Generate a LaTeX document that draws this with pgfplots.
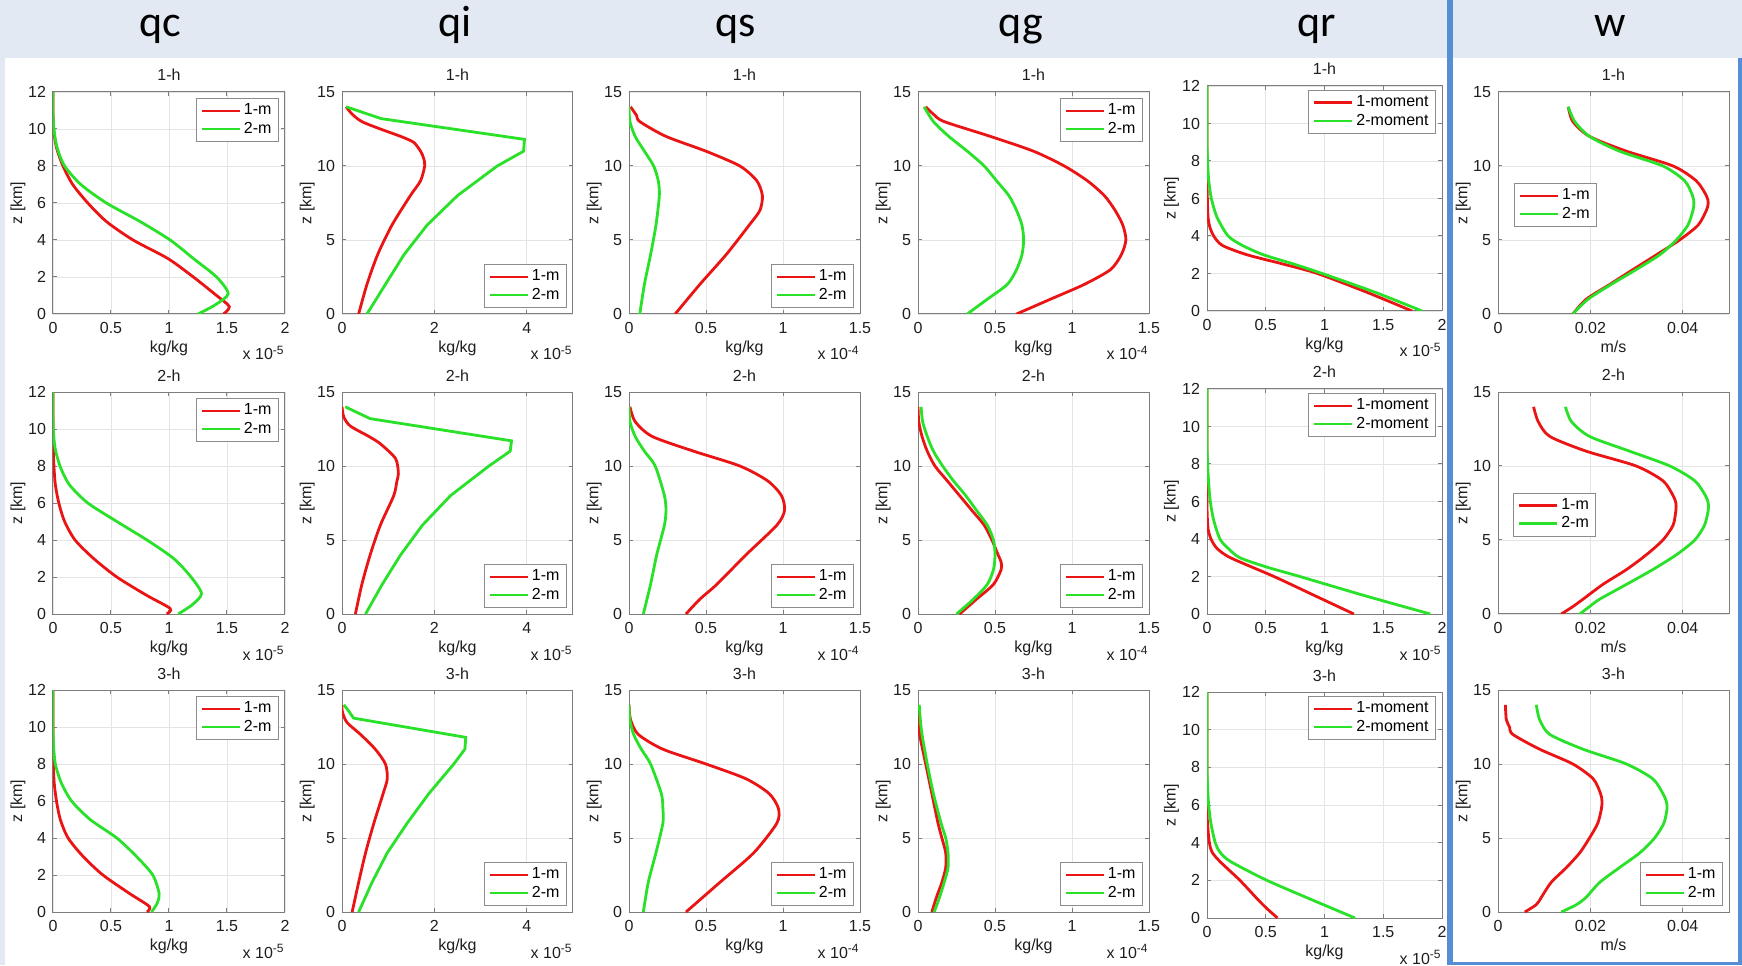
\documentclass[border=0pt]{standalone}
\usepackage{fontspec}
\setmainfont{Liberation Sans}
\newfontfamily\hdr{Carlito}
\usepackage{pgfplots}
\pgfplotsset{compat=1.18}

\definecolor{mred}{RGB}{235,20,20}
\definecolor{mgreen}{RGB}{40,225,40}
\definecolor{axgray}{RGB}{125,125,125}
\definecolor{gridgray}{RGB}{228,228,228}
\definecolor{leggray}{RGB}{140,140,140}
\definecolor{txt}{RGB}{30,30,30}
\definecolor{hdrbg}{RGB}{226,233,243}
\definecolor{mblue}{RGB}{85,142,213}

\newcommand{\fs}{\fontsize{8}{9.6}\selectfont}
\newcommand{\expnode}[1]{\node[anchor=base east, inner sep=0pt, font=\fs, text=txt, yshift=-23pt] at (1,0) {x 10\textsuperscript{#1}};}

\pgfplotsset{
  every axis title/.style={at={(0.5,1)}, anchor=base, yshift=5.5pt, inner sep=0pt, font=\fs, text=txt},
  every axis x label/.style={at={(0.5,0)}, anchor=base, yshift=-19.2pt, inner sep=0pt, font=\fs, text=txt},
  every axis y label/.style={at={(-0.151,0.5)}, rotate=90, anchor=center, inner sep=0pt, font=\fs, text=txt},
  base/.style={
    scale only axis,
    axis line style={axgray, line width=0.5pt},
    grid=major,
    major grid style={gridgray, line width=0.45pt},
    tick style={axgray, line width=0.5pt},
    major tick length=2pt,
    tick align=inside,
    scaled x ticks=false,
    scaled y ticks=false,
    ticklabel style={font=\fs, text=txt},
    /pgf/number format/assume math mode=true,
    xticklabel style={yshift=-0.6pt},
    legend style={draw=leggray, fill=white, line width=0.5pt, font=\fs,
      inner xsep=2pt, inner ysep=1.2pt, row sep=-1pt,
      cells={anchor=west}, nodes={inner sep=1.5pt, text=black}},
    legend image code/.code={\draw[##1, line width=1.4pt] (0pt,0pt) -- (19pt,0pt);},
    clip=true,
  },
  r/.style={mred, line width=1.4pt, smooth, tension=0.45},
  g/.style={mgreen, line width=1.4pt, smooth, tension=0.45},
  rs/.style={mred, line width=1.4pt},
  gs/.style={mgreen, line width=1.4pt},
  colqc/.style={xmin=0,xmax=2,ymin=0,ymax=12, xtick={0,0.5,1,1.5,2}, xticklabels={0,0.5,1,1.5,2},
    ytick={0,2,4,6,8,10,12}, yticklabels={0,2,4,6,8,10,12}, xlabel={kg/kg}, ylabel={z [km]},
    extra description/.code={\expnode{-5}}},
  colqi/.style={xmin=0,xmax=5,ymin=0,ymax=15, xtick={0,2,4}, xticklabels={0,2,4},
    ytick={0,5,10,15}, yticklabels={0,5,10,15}, xlabel={kg/kg}, ylabel={z [km]},
    extra description/.code={\expnode{-5}}},
  colqs/.style={xmin=0,xmax=1.5,ymin=0,ymax=15, xtick={0,0.5,1,1.5}, xticklabels={0,0.5,1,1.5},
    ytick={0,5,10,15}, yticklabels={0,5,10,15}, xlabel={kg/kg}, ylabel={z [km]},
    extra description/.code={\expnode{-4}}},
  colw/.style={xmin=0,xmax=0.05,ymin=0,ymax=15, xtick={0,0.02,0.04}, xticklabels={0,0.02,0.04},
    ytick={0,5,10,15}, yticklabels={0,5,10,15}, xlabel={m/s}, ylabel={z [km]}},
  lne/.style={legend style={at={(1,1)}, anchor=north east, xshift=-3pt, yshift=-3pt}},
  lse/.style={legend style={at={(1,0)}, anchor=south east, xshift=-3pt, yshift=3pt}},
}

\begin{document}
\begin{tikzpicture}[font=\fs]
% background
\fill[hdrbg] (0,0) rectangle (871pt,482.5pt);
\fill[white] (2.5pt,0) rectangle (723.5pt,453.5pt);
\fill[white] (726.5pt,1.5pt) rectangle (869pt,453.5pt);
\fill[mblue] (723.5pt,0) rectangle (726.5pt,482.5pt);
\fill[mblue] (869pt,0) rectangle (871pt,453.5pt);
\fill[mblue] (723.5pt,0) rectangle (871pt,1.5pt);
% headers
\foreach \xx/\tt in {80/qc,227.5/qi,368/qs,510.5/qg,658.5/qr,805/w}
  \node[anchor=base, inner sep=0pt, font=\hdr\fontsize{22}{26}\selectfont, text=black] at (\xx pt,464pt) {\tt};

% ================= qc =================
\begin{axis}[base, colqc, lne, at={(26.5pt,325.5pt)}, anchor=south west, width=116pt, height=111pt, title={1-h}]
\addplot[r] coordinates {(1.47,0) (1.52,0.4) (1.41,1) (1.21,2) (0.99,3) (0.69,4) (0.46,5) (0.30,6) (0.17,7) (0.086,8) (0.03,9) (0.005,10) (0,11) (0,12)};
\addplot[g] coordinates {(1.25,0) (1.40,0.5) (1.51,1.1) (1.41,2) (1.21,3) (1.01,4) (0.75,5) (0.46,6) (0.24,7) (0.10,8) (0.035,9) (0.008,10) (0,11) (0,12)};
\legend{1-m,2-m}
\end{axis}
\begin{axis}[base, colqc, lne, at={(26.5pt,175.5pt)}, anchor=south west, width=116pt, height=111pt, title={2-h}]
\addplot[r] coordinates {(0.98,0) (1.01,0.3) (0.81,1) (0.55,2) (0.35,3) (0.19,4) (0.10,5) (0.05,6) (0.02,7) (0.008,8) (0.002,9) (0,10) (0,12)};
\addplot[g] coordinates {(1.08,0) (1.20,0.5) (1.28,1.1) (1.19,2) (1.04,3) (0.81,4) (0.55,5) (0.30,6) (0.14,7) (0.06,8) (0.017,9) (0.003,10) (0,11) (0,12)};
\legend{1-m,2-m}
\end{axis}
\begin{axis}[base, colqc, lne, at={(26.5pt,26.5pt)}, anchor=south west, width=116pt, height=111pt, title={3-h}]
\addplot[r] coordinates {(0.81,0) (0.83,0.3) (0.66,1) (0.43,2) (0.26,3) (0.13,4) (0.063,5) (0.03,6) (0.01,7) (0.003,8) (0,9) (0,12)};
\addplot[g] coordinates {(0.85,0) (0.90,0.5) (0.915,1) (0.86,2) (0.72,3) (0.55,4) (0.32,5) (0.16,6) (0.07,7) (0.02,8) (0.005,9) (0,10) (0,12)};
\legend{1-m,2-m}
\end{axis}

% ================= qi =================
\begin{axis}[base, colqi, lse, at={(171pt,325.5pt)}, anchor=south west, width=115.5pt, height=111pt, title={1-h}]
\addplot[r] coordinates {(0.36,0) (0.54,2) (0.77,4) (1.08,6) (1.48,8) (1.70,9) (1.79,10) (1.77,10.5) (1.70,11) (1.55,11.6) (1.27,12) (0.83,12.5) (0.43,13) (0.22,13.5) (0.09,14)};
\addplot[gs] coordinates {(0.54,0) (0.94,2) (1.34,4) (1.84,6) (2.50,8) (3.36,10) (3.93,11) (3.95,11.8) (0.85,13.2) (0.09,14)};
\legend{1-m,2-m}
\end{axis}
\begin{axis}[base, colqi, lse, at={(171pt,175.5pt)}, anchor=south west, width=115.5pt, height=111pt, title={2-h}]
\addplot[r] coordinates {(0.29,0) (0.43,2) (0.61,4) (0.83,6) (1.12,8) (1.19,9) (1.22,9.5) (1.16,10.5) (0.83,11.5) (0.58,12) (0.18,12.7) (0.04,13.3) (0,14)};
\addplot[gs] coordinates {(0.51,0) (0.87,2) (1.27,4) (1.74,6) (2.35,8) (3.18,10) (3.64,11) (3.67,11.7) (0.61,13.2) (0.07,14)};
\legend{1-m,2-m}
\end{axis}
\begin{axis}[base, colqi, lse, at={(171pt,26.5pt)}, anchor=south west, width=115.5pt, height=111pt, title={3-h}]
\addplot[r] coordinates {(0.22,0) (0.36,2) (0.51,4) (0.69,6) (0.89,8) (0.98,9) (0.94,10) (0.72,11) (0.40,12) (0.11,12.8) (0.01,13.5) (0,14)};
\addplot[gs] coordinates {(0.36,0) (0.65,2) (0.98,4) (1.41,6) (1.88,8) (2.42,10) (2.66,11) (2.68,11.8) (0.25,13.1) (0.14,13.6) (0.04,14)};
\legend{1-m,2-m}
\end{axis}

% ================= qs =================
\begin{axis}[base, colqs, lse, at={(314.5pt,325.5pt)}, anchor=south west, width=115.5pt, height=111pt, title={1-h}]
\addplot[r] coordinates {(0.30,0) (0.46,2) (0.63,4) (0.78,6) (0.85,7) (0.866,8) (0.83,9) (0.72,10) (0.50,11) (0.24,12) (0.07,13) (0.05,13.4) (0.01,14)};
\addplot[g] coordinates {(0.07,0) (0.10,2) (0.14,4) (0.175,6) (0.197,8) (0.19,9) (0.16,10) (0.10,11) (0.04,12) (0.006,13) (0,14)};
\legend{1-m,2-m}
\end{axis}
\begin{axis}[base, colqs, lse, at={(314.5pt,175.5pt)}, anchor=south west, width=115.5pt, height=111pt, title={2-h}]
\addplot[r] coordinates {(0.37,0) (0.46,1) (0.57,2) (0.76,4) (0.96,6) (1.01,7) (0.99,8) (0.90,9) (0.72,10) (0.42,11) (0.15,12) (0.04,13) (0.006,14)};
\addplot[g] coordinates {(0.093,0) (0.14,2) (0.18,4) (0.23,6) (0.24,7) (0.23,8) (0.17,10) (0.10,11) (0.04,12) (0.006,13) (0,14)};
\legend{1-m,2-m}
\end{axis}
\begin{axis}[base, colqs, lse, at={(314.5pt,26.5pt)}, anchor=south west, width=115.5pt, height=111pt, title={3-h}]
\addplot[r] coordinates {(0.37,0) (0.59,2) (0.81,4) (0.96,6) (0.97,7) (0.91,8) (0.76,9) (0.50,10) (0.22,11) (0.06,12) (0.01,13) (0,14)};
\addplot[g] coordinates {(0.093,0) (0.125,2) (0.175,4) (0.22,6) (0.22,7) (0.21,8) (0.14,10) (0.08,11) (0.03,12) (0.005,13) (0,14)};
\legend{1-m,2-m}
\end{axis}

% ================= qg =================
\begin{axis}[base, colqs, lne, at={(459pt,325.5pt)}, anchor=south west, width=115.5pt, height=111pt, title={1-h}]
\addplot[r] coordinates {(0.64,0) (0.86,1) (1.08,2) (1.25,3) (1.32,4) (1.35,5) (1.33,6) (1.28,7) (1.21,8) (1.10,9) (0.95,10) (0.75,11) (0.47,12) (0.17,13) (0.10,13.5) (0.05,14)};
\addplot[g] coordinates {(0.32,0) (0.45,1) (0.58,2) (0.64,3) (0.675,4) (0.686,5) (0.675,6) (0.64,7) (0.59,8) (0.51,9) (0.43,10) (0.32,11) (0.20,12) (0.10,13) (0.04,14)};
\legend{1-m,2-m}
\end{axis}
\begin{axis}[base, colqs, lse, at={(459pt,175.5pt)}, anchor=south west, width=115.5pt, height=111pt, title={2-h}]
\addplot[r] coordinates {(0.27,0) (0.38,1) (0.49,2) (0.54,3) (0.54,3.5) (0.52,4) (0.48,5) (0.43,6) (0.35,7) (0.27,8) (0.19,9) (0.11,10) (0.06,11) (0.026,12) (0.005,13) (0,14)};
\addplot[g] coordinates {(0.25,0) (0.36,1) (0.45,2) (0.49,3) (0.50,4) (0.49,5) (0.45,6) (0.38,7) (0.31,8) (0.23,9) (0.16,10) (0.10,11) (0.06,12) (0.03,13) (0.02,14)};
\legend{1-m,2-m}
\end{axis}
\begin{axis}[base, colqs, lse, at={(459pt,26.5pt)}, anchor=south west, width=115.5pt, height=111pt, title={3-h}]
\addplot[r] coordinates {(0.09,0) (0.12,1) (0.155,2) (0.18,3) (0.18,4) (0.155,5) (0.13,6) (0.09,8) (0.05,10) (0.01,12) (0,13) (0,14)};
\addplot[g] coordinates {(0.105,0) (0.14,1) (0.17,2) (0.195,3) (0.195,4) (0.18,5) (0.15,6) (0.10,8) (0.06,10) (0.026,12) (0.015,13) (0.008,14)};
\legend{1-m,2-m}
\end{axis}

% ================= qr =================
\begin{axis}[base, colqc, lne, legend style={yshift=1pt}, at={(603.5pt,327pt)}, anchor=south west, width=117.5pt, height=112.5pt, title={1-h}]
\addplot[r] coordinates {(1.745,0) (1.36,1) (0.94,2) (0.65,2.5) (0.34,3) (0.13,3.5) (0.057,4) (0.023,4.5) (0.009,5) (0.003,6) (0,7) (0,12)};
\addplot[g] coordinates {(1.83,0) (1.43,1) (0.98,2) (0.74,2.5) (0.48,3) (0.30,3.5) (0.18,4) (0.085,5) (0.037,6) (0.014,7) (0.005,8) (0,9) (0,12)};
\legend{1-moment,2-moment}
\end{axis}
\begin{axis}[base, colqc, lne, legend style={yshift=1pt}, at={(603.5pt,175.5pt)}, anchor=south west, width=117.5pt, height=112.5pt, title={2-h}]
\addplot[r] coordinates {(1.25,0) (0.91,1) (0.57,2) (0.20,3) (0.085,3.5) (0.034,4) (0.01,4.5) (0.004,5) (0,6) (0,12)};
\addplot[g] coordinates {(1.90,0) (1.33,1) (0.79,2) (0.51,2.5) (0.28,3) (0.18,3.5) (0.11,4) (0.057,5) (0.028,6) (0.014,7) (0.005,8) (0,9) (0,12)};
\legend{1-moment,2-moment}
\end{axis}
\begin{axis}[base, colqc, lne, legend style={yshift=1pt}, at={(603.5pt,23.5pt)}, anchor=south west, width=117.5pt, height=113pt, title={3-h}]
\addplot[r] coordinates {(0.60,0) (0.51,0.5) (0.43,1) (0.28,2) (0.11,3) (0.043,3.5) (0.02,4) (0.005,5) (0,6) (0,12)};
\addplot[g] coordinates {(1.26,0) (0.88,1) (0.51,2) (0.20,3) (0.11,3.5) (0.07,4) (0.034,5) (0.014,6) (0.005,7) (0,8) (0,12)};
\legend{1-moment,2-moment}
\end{axis}

% ================= w =================
\begin{axis}[base, colw, legend style={at={(0.069,0.59)}, anchor=north west}, at={(749pt,325.5pt)}, anchor=south west, width=115.5pt, height=111pt, title={1-h}]
\addplot[r] coordinates {(0.0162,0) (0.0191,1) (0.0242,2) (0.0292,3) (0.0343,4) (0.0393,5) (0.0433,6) (0.0451,7) (0.0455,7.5) (0.0451,8) (0.0429,9) (0.0379,10) (0.0278,11) (0.0198,12) (0.0162,13) (0.0152,14)};
\addplot[g] coordinates {(0.0162,0) (0.0195,1) (0.0245,2) (0.0299,3) (0.035,4) (0.0386,5) (0.0411,6) (0.0422,7) (0.0424,7.5) (0.0421,8) (0.0404,9) (0.0357,10) (0.0263,11) (0.0198,12) (0.0166,13) (0.0152,14)};
\legend{1-m,2-m}
\end{axis}
\begin{axis}[base, colw, legend style={at={(0.065,0.547)}, anchor=north west}, at={(749pt,175.5pt)}, anchor=south west, width=115.5pt, height=111pt, title={2-h}]
\addplot[r] coordinates {(0.0137,0) (0.0162,0.5) (0.0184,1) (0.0227,2) (0.0278,3) (0.0321,4) (0.0357,5) (0.0379,6) (0.0385,7) (0.0385,7.5) (0.0379,8) (0.0357,9) (0.0299,10) (0.0191,11) (0.0112,12) (0.0087,13) (0.0077,14)};
\addplot[g] coordinates {(0.0177,0) (0.0198,0.5) (0.022,1) (0.0278,2) (0.0335,3) (0.0386,4) (0.0426,5) (0.0447,6) (0.0455,7) (0.0455,7.5) (0.0449,8) (0.0426,9) (0.0372,10) (0.0285,11) (0.0198,12) (0.0159,13) (0.0146,14)};
\legend{1-m,2-m}
\end{axis}
\begin{axis}[base, colw, lse, at={(749pt,26.5pt)}, anchor=south west, width=115.5pt, height=111pt, title={3-h}]
\addplot[r] coordinates {(0.0058,0) (0.0083,0.5) (0.0094,1) (0.0115,2) (0.0148,3) (0.0177,4) (0.0198,5) (0.0216,6) (0.0224,7) (0.0225,7.5) (0.0222,8) (0.0206,9) (0.0162,10) (0.009,11) (0.0032,12) (0.0025,12.5) (0.0018,13) (0.0016,14)};
\addplot[g] coordinates {(0.0137,0) (0.017,0.5) (0.0191,1) (0.022,2) (0.0263,3) (0.0307,4) (0.0339,5) (0.0359,6) (0.0366,7) (0.0364,7.5) (0.0357,8) (0.0335,9) (0.0278,10) (0.0184,11) (0.0112,12) (0.009,13) (0.0083,14)};
\legend{1-m,2-m}
\end{axis}

\pgfresetboundingbox
\path[use as bounding box] (0,0) rectangle (871pt,482.5pt);
\end{tikzpicture}
\end{document}
